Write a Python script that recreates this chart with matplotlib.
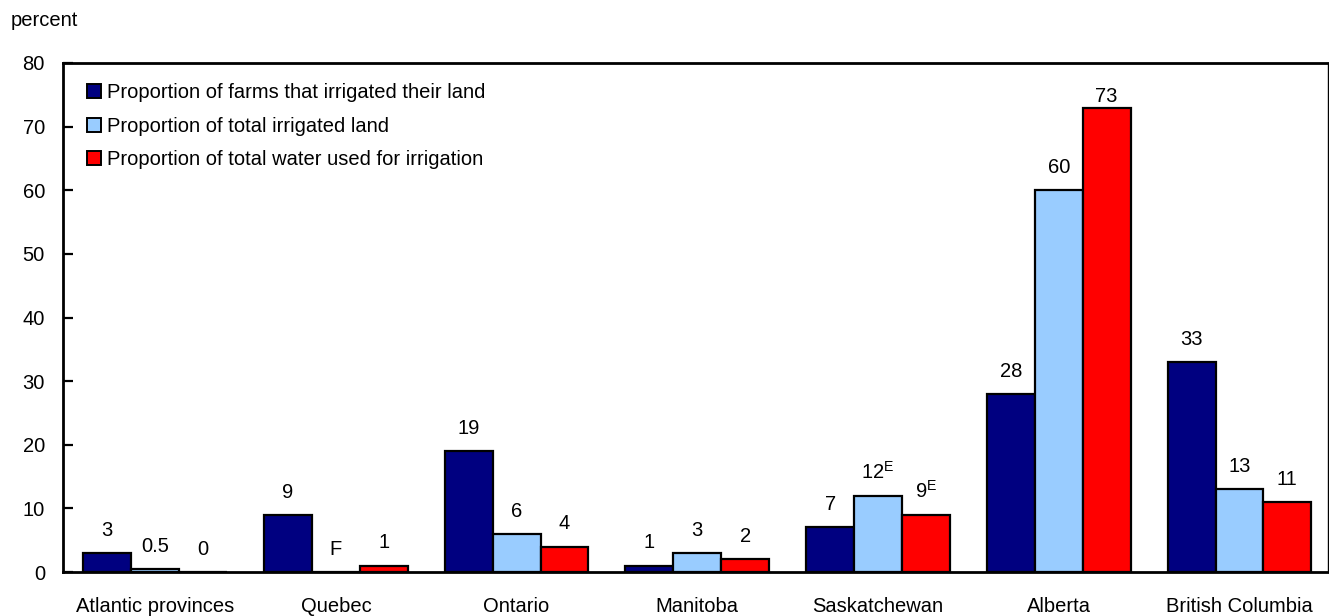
import numpy as np
import matplotlib
matplotlib.use("Agg")
import matplotlib.pyplot as plt
from matplotlib.patches import Patch

plt.rcParams["font.family"] = ["Liberation Sans", "DejaVu Sans"]
plt.rcParams["mathtext.fontset"] = "custom"
plt.rcParams["mathtext.rm"] = "Liberation Sans"
plt.rcParams["mathtext.it"] = "Liberation Sans"

regions = ["Atlantic provinces", "Quebec", "Ontario", "Manitoba",
           "Saskatchewan", "Alberta", "British Columbia"]
series_names = ["Proportion of farms that irrigated their land",
                "Proportion of total irrigated land",
                "Proportion of total water used for irrigation"]
farms = [3, 9, 19, 1, 7, 28, 33]
land = [0.5, np.nan, 6, 3, 12, 60, 13]
water = [0, 1, 4, 2, 9, 73, 11]
farms_labels = ["3", "9", "19", "1", "7", "28", "33"]
land_labels = ["0.5", "F", "6", "3", "12$^{\\mathrm{E}}$", "60", "13"]
water_labels = ["0", "1", "4", "2", "9$^{\\mathrm{E}}$", "73", "11"]
yticks = [0, 10, 20, 30, 40, 50, 60, 70, 80]

colors = ["#000080", "#99CCFF", "#FF0000"]
fs = 14.5
label_gap = 2.7      # gap between bar top and label baseline, in data units
label_ceiling = 73.9  # labels never sit higher than this

fig = plt.figure(figsize=(13.29, 6.16), dpi=100)
ax = fig.add_axes([63 / 1329, 1 - 572 / 616, (1328 - 63) / 1329, (572 - 63) / 616])

x = np.arange(len(regions))
w = 0.265
offsets = [-w, 0, w]
all_vals = [farms, land, water]
all_labels = [farms_labels, land_labels, water_labels]

for vals, labs, off, col in zip(all_vals, all_labels, offsets, colors):
    v = np.array(vals, dtype=float)
    ax.bar(x + off, np.nan_to_num(v), width=w, color=col,
           edgecolor="black", linewidth=1.6, zorder=2)
    for xi, vi, lab in zip(x, v, labs):
        base = 0 if np.isnan(vi) else vi
        ypos = min(base + label_gap, label_ceiling)
        ax.text(xi + off, ypos, lab, ha="center", va="baseline", fontsize=fs)

ax.set_xlim(-0.51, 6.49)
ax.set_ylim(0, 80)
ax.set_yticks(yticks)
ax.set_yticklabels([str(t) for t in yticks], fontsize=fs)
ax.set_xticks(x)
ax.set_xticklabels(regions, fontsize=fs)
ax.tick_params(axis="x", length=0, pad=18)
ax.tick_params(axis="y", direction="in", length=7, width=1.6, pad=13)

for side in ["left", "bottom", "top"]:
    ax.spines[side].set_linewidth(2)
ax.spines["right"].set_linewidth(1)

handles = [Patch(facecolor=c, edgecolor="black", linewidth=1.4) for c in colors]
ax.legend(handles, series_names, loc="upper left", frameon=False,
          fontsize=fs, bbox_to_anchor=(0.008, 0.988),
          handlelength=0.7, handleheight=0.7, handletextpad=0.3,
          labelspacing=0.72, borderaxespad=0.3)

fig.text(11 / 1329, 1 - 20 / 616, "percent", fontsize=fs, va="center", ha="left")

fig.savefig("out.png", dpi=100)
